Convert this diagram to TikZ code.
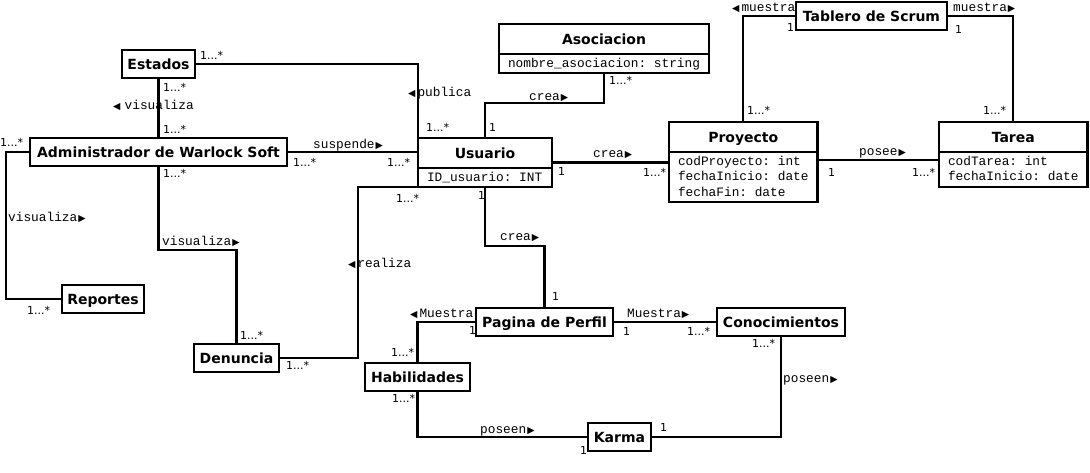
\documentclass[tikz,border=0pt]{standalone}
\usepackage{fontspec}
\setmonofont{Liberation Mono}
\newfontfamily\clsfont{DejaVu Sans}
\newfontfamily\multfont{DejaVu Sans}
\usepackage{tikz}
\usetikzlibrary{shapes.multipart}
\newcommand{\rtri}{{\multfont\fontsize{9.5}{9.5}\selectfont\kern1pt▶}}
\newcommand{\ltri}{{\multfont\fontsize{9.5}{9.5}\selectfont ◀\kern2pt}}
\newcommand{\clsname}[1]{\rule[-9pt]{0pt}{28pt}#1}
\newcommand{\attrs}[1]{{\ttfamily\mdseries\fontsize{12.8}{15.5}\selectfont
  \begin{tabular}{@{}l@{}}\rule{0pt}{12pt}#1\end{tabular}}}
\tikzset{
  % node options
  box/.style={draw,line width=2.3pt,anchor=north west,inner sep=0pt,outer sep=0pt,
    font=\clsfont\bfseries\fontsize{14}{16}\selectfont},
  cls/.style={box,text height=19pt,text depth=9pt},
  clsattr/.style={box,rectangle split,rectangle split parts=2,
    rectangle split part align={center,left},inner xsep=9pt},
  role/.style={anchor=west,inner sep=0pt,font=\ttfamily\fontsize{12.8}{15}\selectfont,
    text height=5.5pt,text depth=0pt},
  mult/.style={anchor=west,inner sep=0pt,font=\multfont\fontsize{11}{13}\selectfont,
    text height=8pt,text depth=0pt},
  % path options
  assoc/.style={line width=2.3pt},
}

\begin{document}
\begin{tikzpicture}[x=1pt,y=-1pt]
  \path[use as bounding box,fill=white] (0,0) rectangle (1090,472);

  \node[cls,minimum width=73pt] (Estados) at (122,50) {Estados};
  \node[cls,minimum width=257pt] (Admin) at (30,138) {Administrador de Warlock Soft};
  \node[clsattr,minimum width=134pt] (Usuario) at (418,138)
    {\clsname{Usuario}\nodepart{second}\attrs{ID\_usuario: INT}};
  \node[clsattr,minimum width=210pt] (Asociacion) at (499,24)
    {\clsname{Asociacion}\nodepart{second}\attrs{nombre\_asociacion: string}};
  \node[cls,minimum width=151pt] (Tablero) at (796,2) {Tablero de Scrum};
  \node[clsattr,minimum width=148pt] (Proyecto) at (669,122)
    {\clsname{Proyecto}\nodepart{second}\attrs{codProyecto: int\\fechaInicio: date\\fechaFin: date}};
  \node[clsattr,minimum width=148pt] (Tarea) at (939,122)
    {\clsname{Tarea}\nodepart{second}\attrs{codTarea: int\\fechaInicio: date}};
  \node[cls,minimum width=82pt] (Reportes) at (62,285) {Reportes};
  \node[cls,minimum width=85pt] (Denuncia) at (194,344) {Denuncia};
  \node[cls,minimum width=137pt] (Pagina) at (476,308) {Pagina de Perfil};
  \node[cls,minimum width=128pt] (Conocimientos) at (717,308) {Conocimientos};
  \node[cls,minimum width=105pt] (Habilidades) at (365,363) {Habilidades};
  \node[cls,minimum width=63pt] (Karma) at (588,423) {Karma};

  \draw[assoc] (Estados.east) -| (Usuario.north west);
  \node[mult] (mEstPub) at (200,55) {1...*};
  \node[role] (rPublica) at (408,94) {\ltri publica};
  \node[mult] (mUsuPub) at (426,127) {1...*};

  \draw[assoc] (Estados.south) -- (Admin.north);
  \node[mult] (mEstVis) at (163,87) {1...*};
  \node[role] (rVisEst) at (113,107) {\ltri\,visualiza};
  \node[mult] (mAdmVis) at (163,129) {1...*};

  \draw[assoc] (Admin.east) -- (Admin.east -| Usuario.west);
  \node[role] (rSuspende) at (313,146) {suspende\rtri};
  \node[mult] (mAdmSus) at (293,162) {1...*};
  \node[mult] (mUsuSus) at (387,162) {1...*};

  \draw[assoc] (Admin.west) -- ++(-24,0) |- (Reportes.west);
  \node[mult] (mAdmRep) at (0,142) {1...*};
  \node[role] (rVisRep) at (8,219) {visualiza\rtri};
  \node[mult] (mRep) at (27,310) {1...*};

  \draw[assoc] (Admin.south) -- ++(0,84) -| (Denuncia.north);
  \node[mult] (mAdmDen) at (163,173) {1...*};
  \node[role] (rVisDen) at (162,243) {visualiza\rtri};
  \node[mult] (mDen) at (240,335) {1...*};

  \draw[assoc] (Usuario.south west) -- ++(-60,0) |- (Denuncia.east);
  \node[mult] (mUsuRea) at (396,198) {1...*};
  \node[role] (rRealiza) at (348,265) {\ltri realiza};
  \node[mult] (mDenRea) at (286,365) {1...*};

  \draw[assoc] (Usuario.north) -- ++(0,-35) -| (Asociacion.south);
  \node[mult] (mUsuAso) at (489,127) {1};
  \node[role] (rCreaAso) at (529,98) {crea\rtri};
  \node[mult] (mAso) at (609,80) {1...*};

  \draw[assoc] (Usuario.east) -- (Usuario.east -| Proyecto.west);
  \node[role] (rCreaPro) at (593,155) {crea\rtri};
  \node[mult] (mUsuPro) at (558,171) {1};
  \node[mult] (mPro) at (643,172) {1...*};

  \draw[assoc] (Usuario.south) -- ++(0,59) -| (Pagina.north);
  \node[mult] (mUsuPag) at (478,195) {1};
  \node[role] (rCreaPag) at (500,238) {crea\rtri};
  \node[mult] (mPag) at (552,296) {1};

  \draw[assoc] ([yshift=2pt]Proyecto.east) -- ([yshift=2pt]Proyecto.east -| Tarea.west);
  \node[role] (rPosee) at (859,153) {posee\rtri};
  \node[mult] (mProTar) at (828,172) {1};
  \node[mult] (mTar) at (912,172) {1...*};

  \draw[assoc] (Tablero.west) -| (Proyecto.north);
  \node[role] (rMuestraPro) at (732,9) {\ltri muestra};
  \node[mult] (mTabPro) at (787,27) {1};
  \node[mult] (mProTab) at (747,110) {1...*};

  \draw[assoc] (Tablero.east) -| (Tarea.north);
  \node[role] (rMuestraTar) at (953,9) {muestra\rtri};
  \node[mult] (mTabTar) at (955,29) {1};
  \node[mult] (mTarTab) at (983,110) {1...*};

  \draw[assoc] (Pagina.west) -| (Habilidades.north);
  \node[role] (rMuestraHab) at (410,315) {\ltri Muestra};
  \node[mult] (mPagHab) at (469,330) {1};
  \node[mult] (mHab) at (391,352) {1...*};

  \draw[assoc] (Pagina.east) -- (Conocimientos.west);
  \node[role] (rMuestraCon) at (627,315) {Muestra\rtri};
  \node[mult] (mPagCon) at (623,331) {1};
  \node[mult] (mCon) at (687,331) {1...*};

  \draw[assoc] (Habilidades.south) |- (Karma.west);
  \node[mult] (mHabKar) at (392,398) {1...*};
  \node[role] (rPoseenHab) at (480,431) {poseen\rtri};
  \node[mult] (mKarHab) at (580,450) {1};

  \draw[assoc] (Conocimientos.south) |- (Karma.east);
  \node[mult] (mConKar) at (752,343) {1...*};
  \node[role] (rPoseenCon) at (783,380) {poseen\rtri};
  \node[mult] (mKarCon) at (660,427) {1};
\end{tikzpicture}
\end{document}
